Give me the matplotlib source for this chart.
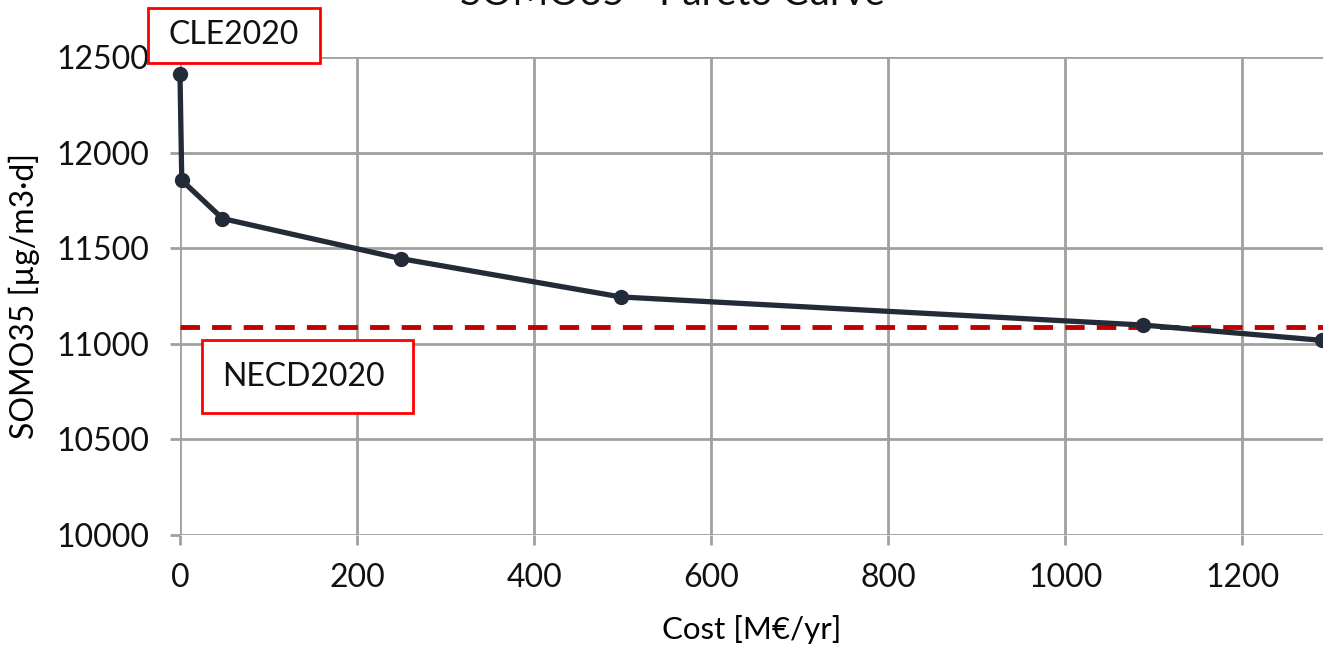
import matplotlib

matplotlib.use("Agg")
import matplotlib.pyplot as plt
from matplotlib.patches import Rectangle

plt.rcParams["font.family"] = ["Lato", "DejaVu Sans"]

# Pareto points: cost vs. SOMO35
cost = [0, 2, 48, 250, 498, 1088, 1290]
somo35 = [12410, 11855, 11655, 11445, 11245, 11098, 11018]
necd_target = 11090

x_ticks = [0, 200, 400, 600, 800, 1000, 1200]
y_ticks = [10000, 10500, 11000, 11500, 12000, 12500]

W, H = 1323, 648
fig = plt.figure(figsize=(W / 100, H / 100), dpi=100)
ax = fig.add_axes([180 / W, 1 - 535 / H, 1 - 180 / W, (535 - 57) / H])

grid_col = "#a0a0a0"
ax.set_xlim(0, 1291)
ax.set_ylim(10000, 12500)
ax.set_xticks(x_ticks)
ax.set_yticks(y_ticks)
ax.grid(True, color=grid_col, linewidth=2)
ax.set_axisbelow(True)
for s in ax.spines.values():
    s.set_visible(False)
ax.tick_params(axis="both", colors=grid_col, width=2, length=7,
               labelcolor="#111111", labelsize=23)
ax.tick_params(axis="x", pad=13)
ax.tick_params(axis="y", pad=15)

ax.axhline(necd_target, color="#c00000", linewidth=3.5, linestyle=(0, (4, 2.5)),
           zorder=3)
ax.plot(cost, somo35, color="#232b38", linewidth=3.8, marker="o", markersize=10,
        zorder=4, clip_on=False)

ax.set_xlabel("Cost [M€/yr]", fontsize=22.5, labelpad=16)
ax.set_ylabel("SOMO35 [µg/m3·d]", fontsize=23, labelpad=12)

fig.text(0.508, 1 - 5 / H, "SOMO35 - Pareto Curve", ha="center", va="baseline",
         fontsize=28, color="#111111")

# labelled boxes
for (x0, y0, w, h), label in [((148, 8, 172, 55), "CLE2020"),
                              ((202, 340, 211, 73), "NECD2020")]:
    fig.patches.append(Rectangle((x0 / W, 1 - (y0 + h) / H), w / W, h / H,
                                 transform=fig.transFigure, facecolor="white",
                                 edgecolor="#ff0000", linewidth=2, zorder=5))
    fig.text((x0 + 20) / W, 1 - (y0 + h / 2) / H, label, ha="left",
             va="center", fontsize=23, color="#111111", zorder=6)

fig.savefig("out.png", dpi=100)
